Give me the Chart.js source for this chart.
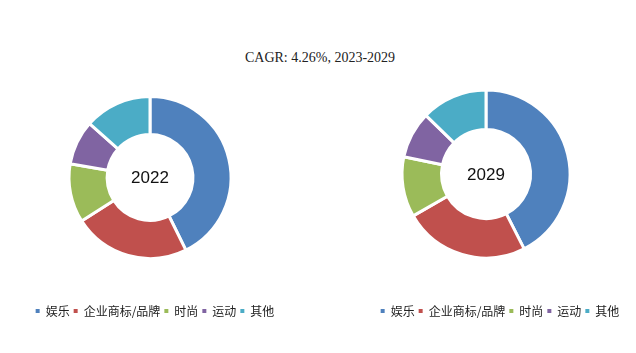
<!DOCTYPE html>
<html>
<head>
<meta charset="utf-8">
<script src="https://cdn.jsdelivr.net/npm/chart.js@4.4.0/dist/chart.umd.min.js"></script>
<style>
  body { margin: 0; background: #fff; width: 636px; height: 353px; position: relative; overflow: hidden; }
  #title { position: absolute; top: 50px; left: 0; width: 640px; text-align: center;
           font-family: 'Liberation Serif', serif; font-size: 14px; color: #222; }
  .box { position: absolute; }
</style>
</head>
<body>
<div id="title">CAGR: 4.26%, 2023-2029</div>
<div class="box" id="leftBox" style="left:10px; top:54px; width:290px; height:273px;"><canvas id="chart2022"></canvas></div>
<div class="box" id="rightBox" style="left:355px; top:47px; width:290px; height:280px;"><canvas id="chart2029"></canvas></div>
<script>
// 分类和数值 (百分比, 从图上估计)
const categories = ['娱乐', '企业商标/品牌', '时尚', '运动', '其他'];
const share2022 = [42.7, 23.3, 11.7, 8.9, 13.4];
const share2029 = [42.5, 24.2, 11.6, 9.0, 12.7];
const colors = ['#4f81bd', '#c0504d', '#9bbb59', '#8064a2', '#4bacc6'];

// 中间的年份文字 + 水平偏移
const centerText = {
  id: 'centerText',
  afterLayout(chart) {
    const s = chart.options.plugins.centerText.shiftX || 0;
    chart.chartArea.left += s;
    chart.chartArea.right += s;
  },
  afterDraw(chart) {
    const arc = chart.getDatasetMeta(0).data[0];
    if (!arc) return;
    const ctx = chart.ctx;
    ctx.save();
    ctx.font = '17px "Liberation Sans", Arial, sans-serif';
    ctx.fillStyle = '#111';
    ctx.textAlign = 'center';
    ctx.textBaseline = 'middle';
    ctx.fillText(chart.options.plugins.centerText.text, arc.x, arc.y + 1);
    ctx.restore();
  }
};

const defaultLabels = Chart.overrides.doughnut.plugins.legend.labels.generateLabels;

const makeDonut = (canvasId, data, year, radius, shiftX) => {
  const ctx = document.getElementById(canvasId).getContext('2d');
  new Chart(ctx, {
    type: 'doughnut',
    data: {
      labels: categories,
      datasets: [{
        data: data,
        backgroundColor: colors,
        borderColor: '#fff',
        borderWidth: 3
      }]
    },
    options: {
      responsive: true,
      maintainAspectRatio: false,
      animation: false,
      radius: radius,
      cutout: '53%',
      plugins: {
        legend: {
          position: 'bottom',
          labels: {
            boxWidth: 4,
            boxHeight: 4,
            padding: 4,
            color: '#222',
            font: { size: 12, family: '"Noto Sans CJK SC", sans-serif' },
            generateLabels: (chart) => defaultLabels(chart).map(item => {
              item.lineWidth = 0;
              item.strokeStyle = item.fillStyle;
              return item;
            })
          }
        },
        tooltip: { enabled: false },
        centerText: { text: year, shiftX: shiftX }
      }
    },
    plugins: [centerText]
  });
};

makeDonut('chart2022', share2022, '2022', 81, -5);
makeDonut('chart2029', share2029, '2029', 84, -14);
</script>
</body>
</html>
